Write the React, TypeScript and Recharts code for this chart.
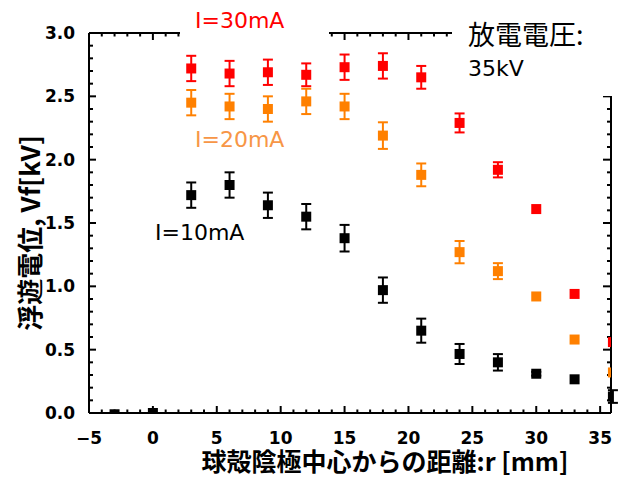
import React from "react";
import { ScatterChart, Scatter, XAxis, YAxis, ErrorBar, ReferenceLine } from "recharts";

// distance from the cathode centre, r [mm]
const rOuter = [3, 6, 9, 12, 15, 18, 21, 24, 27, 30, 33, 36];
const rInner = [-3, 0, 3, 6, 9, 12, 15, 18, 21, 24, 27, 30, 33, 36];

// floating potential Vf [kV] and error bars
const vf30 = [2.72, 2.68, 2.69, 2.67, 2.73, 2.74, 2.65, 2.29, 1.92, 1.61, 0.94, 0.56];
const err30 = [0.1, 0.1, 0.1, 0.09, 0.1, 0.1, 0.09, 0.075, 0.06, 0, 0, 0];
const vf20 = [2.45, 2.42, 2.4, 2.46, 2.42, 2.19, 1.88, 1.27, 1.12, 0.92, 0.58, 0.32];
const err20 = [0.1, 0.1, 0.1, 0.1, 0.1, 0.105, 0.09, 0.088, 0.063, 0, 0, 0];
const vf10 = [-0.01, 0.0, 1.72, 1.8, 1.64, 1.55, 1.38, 0.97, 0.65, 0.466, 0.4, 0.31, 0.266, 0.13];
const err10 = [0, 0, 0.1, 0.1, 0.1, 0.1, 0.105, 0.1, 0.095, 0.079, 0.065, 0.015, 0, 0.05];

const xMajor = [-5, 0, 5, 10, 15, 20, 25, 30, 35];
const yMajor = [0, 0.5, 1, 1.5, 2, 2.5, 3];
const xTicks = Array.from({ length: 41 }, (_, i) => i - 5);
const yTicks = Array.from({ length: 31 }, (_, i) => i / 10);

const X_DOMAIN: [number, number] = [-5, 35.85];
const Y_DOMAIN: [number, number] = [0, 3];
const [X0, X1] = X_DOMAIN;
const [Y0, Y1] = Y_DOMAIN;

// pixels per data unit of the plot (522 px wide, 380 px tall)
const PX_X = 522 / (X1 - X0);
const PX_Y = 380 / (Y1 - Y0);

const toRows = (r: number[], v: number[], e: number[]) => r.map((x, i) => ({ r: x, v: v[i], e: e[i] }));
const data30 = toRows(rOuter, vf30, err30);
const data20 = toRows(rOuter, vf20, err20);
const data10 = toRows(rInner, vf10, err10);

const RED = "#ff0000";
const ORANGE = "#ff8000";
const tickFont = { fontFamily: "'DejaVu Sans', sans-serif", fontWeight: 700, fontSize: 17 };
const dv = "'DejaVu Sans', sans-serif";
const cjk = "'Noto Sans CJK JP', sans-serif";

const isMajorX = (v: number) => xMajor.includes(v);
const isMajorY = (v: number) => yMajor.some((m) => Math.abs(m - v) < 1e-6);

const Square = (p: any) => <rect x={p.cx - 5} y={p.cy - 5} width={10} height={10} fill={p.fill} />;

const BottomLabel = (p: any) =>
  isMajorX(p.payload.value) ? (
    <text x={p.x} y={p.y + 31} textAnchor="middle" fill="#000" style={tickFont}>
      {p.payload.value < 0 ? "\u2212" + Math.abs(p.payload.value) : p.payload.value}
    </text>
  ) : (
    <g />
  );

const LeftLabel = (p: any) =>
  isMajorY(p.payload.value) ? (
    <text x={p.x - 14} y={p.y + 6} textAnchor="end" fill="#000" style={tickFont}>
      {p.payload.value.toFixed(1)}
    </text>
  ) : (
    <g />
  );

const frame = { stroke: "#000", strokeWidth: 2, ifOverflow: "visible" as const };

export default function App() {
  return (
    <div style={{ position: "absolute", left: 0, top: 0, width: 621, height: 477, background: "#fff" }}>
      <div style={{ position: "relative" }}>
        <ScatterChart width={621} height={477} margin={{ top: 33, right: 10, bottom: 34, left: 29 }}>
          <XAxis
            type="number"
            dataKey="r"
            domain={X_DOMAIN}
            allowDataOverflow
            ticks={xTicks}
            interval={0}
            height={30}
            tickSize={0}
            tickMargin={0}
            tickLine={false}
            axisLine={false}
            tick={BottomLabel}
          />
          <YAxis
            type="number"
            dataKey="v"
            domain={Y_DOMAIN}
            allowDataOverflow
            ticks={yTicks}
            interval={0}
            width={60}
            tickSize={0}
            tickMargin={0}
            tickLine={false}
            axisLine={false}
            tick={LeftLabel}
          />

          {/* frame */}
          <ReferenceLine y={Y0} {...frame} />
          <ReferenceLine y={Y1} {...frame} />
          <ReferenceLine x={X0} {...frame} />
          <ReferenceLine x={X1} {...frame} />

          {/* inward ticks, bottom and top */}
          {xTicks.map((t) => {
            const len = (isMajorX(t) ? 7 : 3.5) / PX_Y;
            return [
              <ReferenceLine key={`b${t}`} segment={[{ x: t, y: Y0 }, { x: t, y: Y0 + len }]} {...frame} />,
              <ReferenceLine key={`t${t}`} segment={[{ x: t, y: Y1 }, { x: t, y: Y1 - len }]} {...frame} />,
            ];
          })}
          {/* inward ticks, left and right */}
          {yTicks.map((t) => {
            const major = isMajorY(t);
            return [
              <ReferenceLine key={`l${t}`} segment={[{ x: X0, y: t }, { x: X0 + (major ? 7 : 4) / PX_X, y: t }]} {...frame} />,
              <ReferenceLine key={`r${t}`} segment={[{ x: X1, y: t }, { x: X1 - (major ? 8 : 4) / PX_X, y: t }]} {...frame} />,
            ];
          })}

          <Scatter data={data30} fill={RED} shape={Square} isAnimationActive={false}>
            <ErrorBar dataKey="e" direction="y" width={5} stroke={RED} strokeWidth={2} isAnimationActive={false} />
          </Scatter>
          <Scatter data={data20} fill={ORANGE} shape={Square} isAnimationActive={false}>
            <ErrorBar dataKey="e" direction="y" width={5} stroke={ORANGE} strokeWidth={2} isAnimationActive={false} />
          </Scatter>
          <Scatter data={data10} fill="#000" shape={Square} isAnimationActive={false}>
            <ErrorBar dataKey="e" direction="y" width={5} stroke="#000" strokeWidth={2} isAnimationActive={false} />
          </Scatter>
        </ScatterChart>

        {/* label boxes that hide the frame behind them */}
        <div style={{ position: "absolute", left: 180, top: 0, width: 149, height: 44, background: "#fff" }} />
        <div style={{ position: "absolute", left: 452, top: 0, width: 169, height: 96, background: "#fff" }} />

        <div style={{ position: "absolute", left: 195, top: 10, fontFamily: dv, fontSize: 22, lineHeight: "22px", color: RED, whiteSpace: "nowrap" }}>I=30mA</div>
        <div style={{ position: "absolute", left: 195, top: 128.5, fontFamily: dv, fontSize: 22, lineHeight: "22px", color: "#f79646", whiteSpace: "nowrap" }}>I=20mA</div>
        <div style={{ position: "absolute", left: 155, top: 221.5, fontFamily: dv, fontSize: 22, lineHeight: "22px", color: "#000", whiteSpace: "nowrap" }}>I=10mA</div>
        <div style={{ position: "absolute", left: 468, top: 57.5, fontFamily: dv, fontSize: 22, lineHeight: "22px", color: "#000", whiteSpace: "nowrap" }}>35kV</div>
        <div style={{ position: "absolute", left: 468, top: 19.7, fontFamily: cjk, fontSize: 27, lineHeight: "27px", color: "#000", whiteSpace: "nowrap" }}>放電電圧:</div>

        <div
          style={{
            position: "absolute", left: 385, top: 448, transform: "translateX(-50%)",
            fontFamily: cjk, fontSize: 25, lineHeight: "25px", fontWeight: 700, whiteSpace: "nowrap", color: "#000",
          }}
        >
          球殻陰極中心からの距離:r [mm]
        </div>
        <div
          style={{
            position: "absolute", left: 28.7, top: 233, transform: "translate(-50%, -50%) rotate(-90deg)",
            fontFamily: cjk, fontSize: 26, lineHeight: "26px", fontWeight: 700, whiteSpace: "nowrap", color: "#000",
          }}
        >
          浮遊電位, Vf[kV]
        </div>
      </div>
    </div>
  );
}
